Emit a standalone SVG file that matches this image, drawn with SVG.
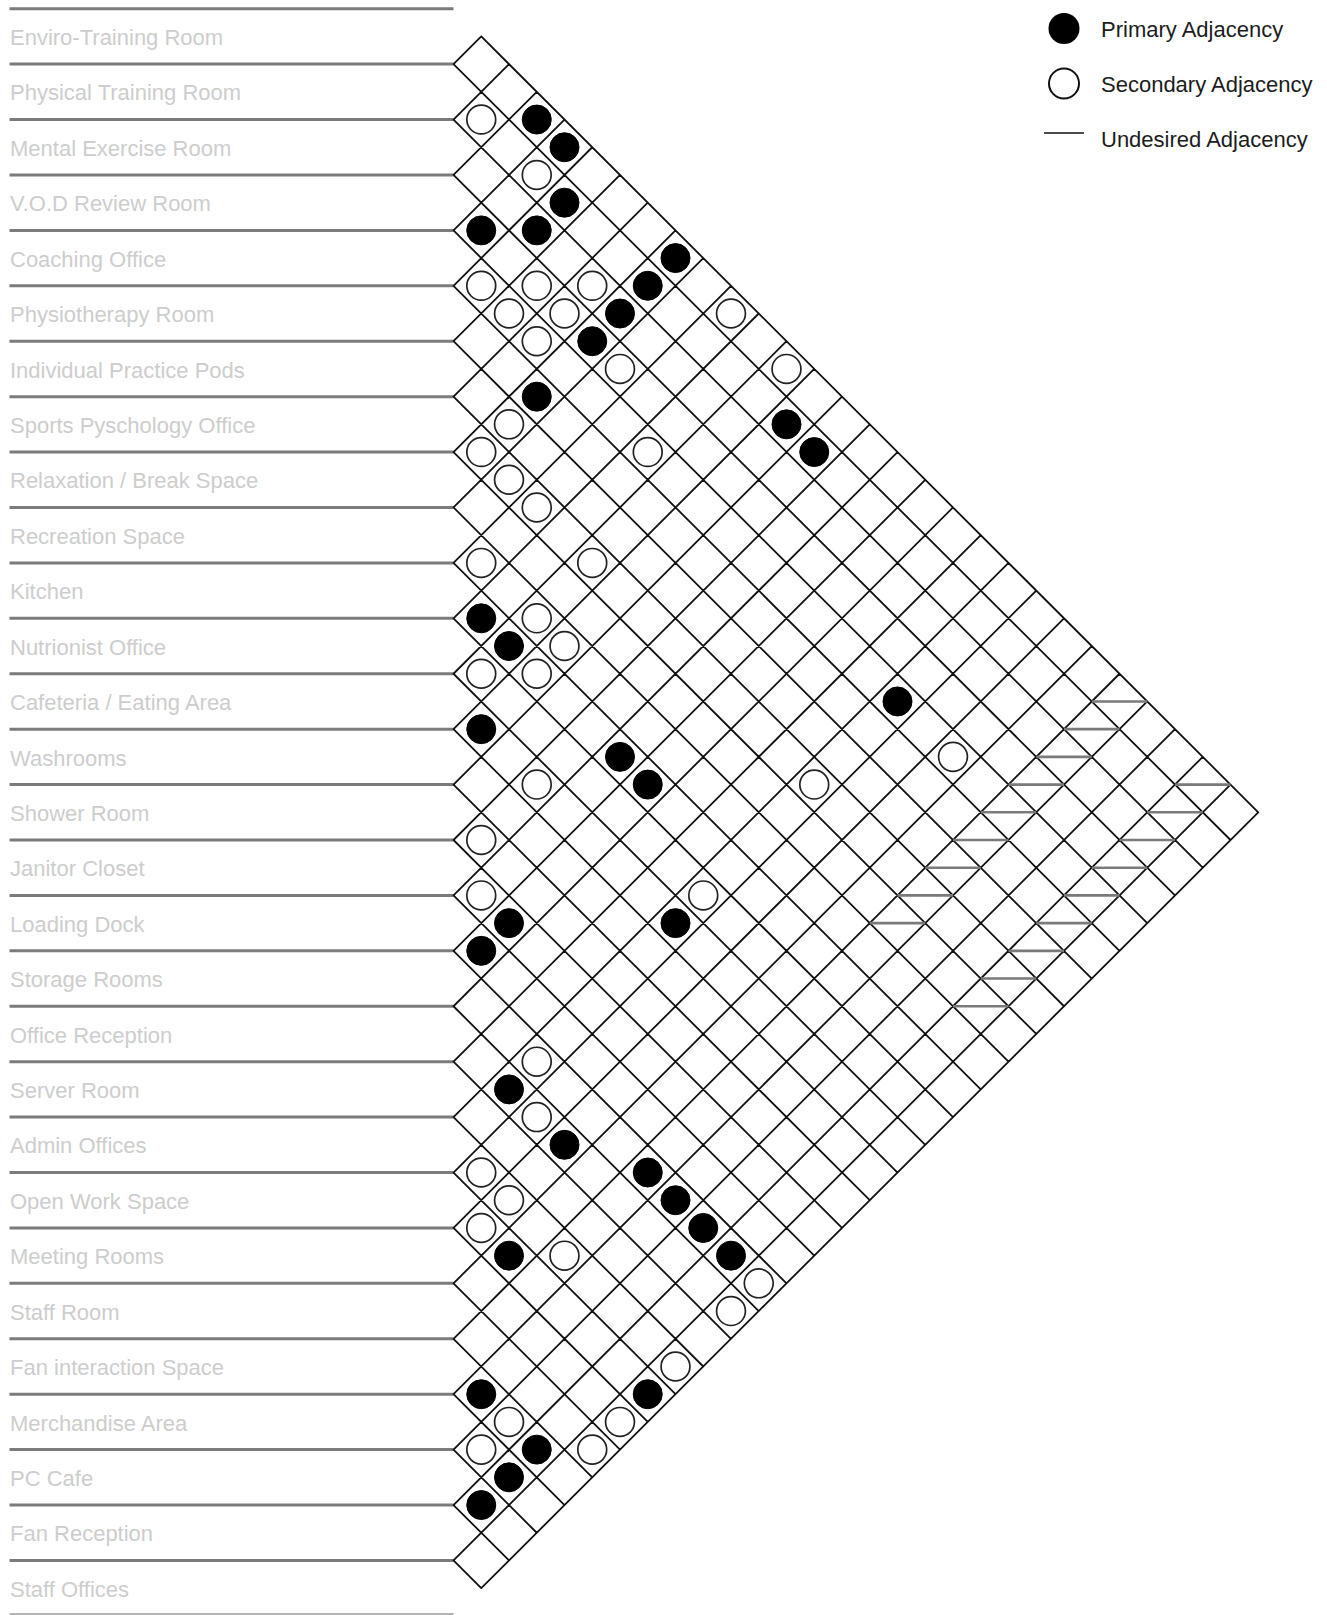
<svg xmlns="http://www.w3.org/2000/svg" width="1327" height="1615" viewBox="0 0 1327 1615">
<style>
.bg{fill:#ffffff}
.rule{stroke:#7b7b7b;stroke-width:3;fill:none}
.rule-end{stroke:#9a9a9a;stroke-width:1.6;fill:none}
.lbl{font-family:"Liberation Sans",Arial,sans-serif;font-size:22px;fill:#cdcdcd}
.leg{font-family:"Liberation Sans",Arial,sans-serif;font-size:22px;fill:#1c1c1c}
.grid{stroke:#111111;stroke-width:1.8;fill:none;vector-effect:non-scaling-stroke;stroke-linecap:round}
.p{fill:#000000;stroke:#000000;stroke-width:1;vector-effect:non-scaling-stroke}
.s{fill:#ffffff;stroke:#222222;stroke-width:1.7;vector-effect:non-scaling-stroke}
.u{stroke:#7a7a7a;stroke-width:2.6;fill:none;vector-effect:non-scaling-stroke}
</style>
<rect class="bg" x="0" y="0" width="1327" height="1615"/>

<g id="row-rules">
<line class="rule" x1="9.5" y1="8.7" x2="453.5" y2="8.7"/>
<line class="rule" x1="9.5" y1="64.12" x2="453.5" y2="64.12"/>
<line class="rule" x1="9.5" y1="119.54" x2="453.5" y2="119.54"/>
<line class="rule" x1="9.5" y1="174.96" x2="453.5" y2="174.96"/>
<line class="rule" x1="9.5" y1="230.38" x2="453.5" y2="230.38"/>
<line class="rule" x1="9.5" y1="285.8" x2="453.5" y2="285.8"/>
<line class="rule" x1="9.5" y1="341.22" x2="453.5" y2="341.22"/>
<line class="rule" x1="9.5" y1="396.64" x2="453.5" y2="396.64"/>
<line class="rule" x1="9.5" y1="452.06" x2="453.5" y2="452.06"/>
<line class="rule" x1="9.5" y1="507.48" x2="453.5" y2="507.48"/>
<line class="rule" x1="9.5" y1="562.9" x2="453.5" y2="562.9"/>
<line class="rule" x1="9.5" y1="618.32" x2="453.5" y2="618.32"/>
<line class="rule" x1="9.5" y1="673.74" x2="453.5" y2="673.74"/>
<line class="rule" x1="9.5" y1="729.16" x2="453.5" y2="729.16"/>
<line class="rule" x1="9.5" y1="784.58" x2="453.5" y2="784.58"/>
<line class="rule" x1="9.5" y1="840" x2="453.5" y2="840"/>
<line class="rule" x1="9.5" y1="895.42" x2="453.5" y2="895.42"/>
<line class="rule" x1="9.5" y1="950.84" x2="453.5" y2="950.84"/>
<line class="rule" x1="9.5" y1="1006.26" x2="453.5" y2="1006.26"/>
<line class="rule" x1="9.5" y1="1061.68" x2="453.5" y2="1061.68"/>
<line class="rule" x1="9.5" y1="1117.1" x2="453.5" y2="1117.1"/>
<line class="rule" x1="9.5" y1="1172.52" x2="453.5" y2="1172.52"/>
<line class="rule" x1="9.5" y1="1227.94" x2="453.5" y2="1227.94"/>
<line class="rule" x1="9.5" y1="1283.36" x2="453.5" y2="1283.36"/>
<line class="rule" x1="9.5" y1="1338.78" x2="453.5" y2="1338.78"/>
<line class="rule" x1="9.5" y1="1394.2" x2="453.5" y2="1394.2"/>
<line class="rule" x1="9.5" y1="1449.62" x2="453.5" y2="1449.62"/>
<line class="rule" x1="9.5" y1="1505.04" x2="453.5" y2="1505.04"/>
<line class="rule" x1="9.5" y1="1560.46" x2="453.5" y2="1560.46"/>
<line class="rule-end" x1="9.5" y1="1614" x2="453.5" y2="1614"/>
</g>

<g id="labels">
<g id="r00"><text class="lbl" x="10" y="45">Enviro-Training Room</text></g>
<g id="r01"><text class="lbl" x="10" y="100.4">Physical Training Room</text></g>
<g id="r02"><text class="lbl" x="10" y="155.8">Mental Exercise Room</text></g>
<g id="r03"><text class="lbl" x="10" y="211.3">V.O.D Review Room</text></g>
<g id="r04"><text class="lbl" x="10" y="266.7">Coaching Office</text></g>
<g id="r05"><text class="lbl" x="10" y="322.1">Physiotherapy Room</text></g>
<g id="r06"><text class="lbl" x="10" y="377.5">Individual Practice Pods</text></g>
<g id="r07"><text class="lbl" x="10" y="432.9">Sports Pyschology Office</text></g>
<g id="r08"><text class="lbl" x="10" y="488.4">Relaxation / Break Space</text></g>
<g id="r09"><text class="lbl" x="10" y="543.8">Recreation Space</text></g>
<g id="r10"><text class="lbl" x="10" y="599.2">Kitchen</text></g>
<g id="r11"><text class="lbl" x="10" y="654.6">Nutrionist Office</text></g>
<g id="r12"><text class="lbl" x="10" y="710">Cafeteria / Eating Area</text></g>
<g id="r13"><text class="lbl" x="10" y="765.5">Washrooms</text></g>
<g id="r14"><text class="lbl" x="10" y="820.9">Shower Room</text></g>
<g id="r15"><text class="lbl" x="10" y="876.3">Janitor Closet</text></g>
<g id="r16"><text class="lbl" x="10" y="931.7">Loading Dock</text></g>
<g id="r17"><text class="lbl" x="10" y="987.1">Storage Rooms</text></g>
<g id="r18"><text class="lbl" x="10" y="1042.6">Office Reception</text></g>
<g id="r19"><text class="lbl" x="10" y="1098">Server Room</text></g>
<g id="r20"><text class="lbl" x="10" y="1153.4">Admin Offices</text></g>
<g id="r21"><text class="lbl" x="10" y="1208.8">Open Work Space</text></g>
<g id="r22"><text class="lbl" x="10" y="1264.2">Meeting Rooms</text></g>
<g id="r23"><text class="lbl" x="10" y="1319.7">Staff Room</text></g>
<g id="r24"><text class="lbl" x="10" y="1375.1">Fan interaction Space</text></g>
<g id="r25"><text class="lbl" x="10" y="1430.5">Merchandise Area</text></g>
<g id="r26"><text class="lbl" x="10" y="1485.9">PC Cafe</text></g>
<g id="r27"><text class="lbl" x="10" y="1541.3">Fan Reception</text></g>
<g id="r28"><text class="lbl" x="10" y="1596.8">Staff Offices</text></g>
</g>

<g id="matrix" transform="translate(453.5 8.7) scale(27.75 27.71)">
<path id="matrix-grid" class="grid" d="M1 1L29 29M0 2L28 30M0 4L27 31M0 6L26 32M0 8L25 33M0 10L24 34M0 12L23 35M0 14L22 36M0 16L21 37M0 18L20 38M0 20L19 39M0 22L18 40M0 24L17 41M0 26L16 42M0 28L15 43M0 30L14 44M0 32L13 45M0 34L12 46M0 36L11 47M0 38L10 48M0 40L9 49M0 42L8 50M0 44L7 51M0 46L6 52M0 48L5 53M0 50L4 54M0 52L3 55M0 54L2 56M0 56L1 57
M0 2L1 1M0 4L2 2M0 6L3 3M0 8L4 4M0 10L5 5M0 12L6 6M0 14L7 7M0 16L8 8M0 18L9 9M0 20L10 10M0 22L11 11M0 24L12 12M0 26L13 13M0 28L14 14M0 30L15 15M0 32L16 16M0 34L17 17M0 36L18 18M0 38L19 19M0 40L20 20M0 42L21 21M0 44L22 22M0 46L23 23M0 48L24 24M0 50L25 25M0 52L26 26M0 54L27 27M0 56L28 28M1 57L29 29"/>

<g id="undesired">
<path class="u" d="M23 25H25M22 26H24M21 27H23M20 28H22M19 29H21M18 30H20M17 31H19M16 32H18M15 33H17"/>
<path class="u" d="M26 28H28M25 29H27M24 30H26M23 31H25M22 32H24M21 33H23M20 34H22M19 35H21M18 36H20"/>
</g>

<g id="primary">
<circle class="p" cx="3" cy="4" r="0.523"/>
<circle class="p" cx="4" cy="5" r="0.523"/>
<circle class="p" cx="4" cy="7" r="0.523"/>
<circle class="p" cx="1" cy="8" r="0.523"/>
<circle class="p" cx="3" cy="8" r="0.523"/>
<circle class="p" cx="8" cy="9" r="0.523"/>
<circle class="p" cx="7" cy="10" r="0.523"/>
<circle class="p" cx="6" cy="11" r="0.523"/>
<circle class="p" cx="5" cy="12" r="0.523"/>
<circle class="p" cx="3" cy="14" r="0.523"/>
<circle class="p" cx="12" cy="15" r="0.523"/>
<circle class="p" cx="13" cy="16" r="0.523"/>
<circle class="p" cx="1" cy="22" r="0.523"/>
<circle class="p" cx="2" cy="23" r="0.523"/>
<circle class="p" cx="16" cy="25" r="0.523"/>
<circle class="p" cx="1" cy="26" r="0.523"/>
<circle class="p" cx="6" cy="27" r="0.523"/>
<circle class="p" cx="7" cy="28" r="0.523"/>
<circle class="p" cx="2" cy="33" r="0.523"/>
<circle class="p" cx="8" cy="33" r="0.523"/>
<circle class="p" cx="1" cy="34" r="0.523"/>
<circle class="p" cx="2" cy="39" r="0.523"/>
<circle class="p" cx="4" cy="41" r="0.523"/>
<circle class="p" cx="7" cy="42" r="0.523"/>
<circle class="p" cx="8" cy="43" r="0.523"/>
<circle class="p" cx="9" cy="44" r="0.523"/>
<circle class="p" cx="2" cy="45" r="0.523"/>
<circle class="p" cx="10" cy="45" r="0.523"/>
<circle class="p" cx="1" cy="50" r="0.523"/>
<circle class="p" cx="7" cy="50" r="0.523"/>
<circle class="p" cx="3" cy="52" r="0.523"/>
<circle class="p" cx="2" cy="53" r="0.523"/>
<circle class="p" cx="1" cy="54" r="0.523"/>
</g>

<g id="secondary">
<circle class="s" cx="1" cy="4" r="0.52"/>
<circle class="s" cx="3" cy="6" r="0.52"/>
<circle class="s" cx="1" cy="10" r="0.52"/>
<circle class="s" cx="3" cy="10" r="0.52"/>
<circle class="s" cx="5" cy="10" r="0.52"/>
<circle class="s" cx="2" cy="11" r="0.52"/>
<circle class="s" cx="4" cy="11" r="0.52"/>
<circle class="s" cx="10" cy="11" r="0.52"/>
<circle class="s" cx="3" cy="12" r="0.52"/>
<circle class="s" cx="6" cy="13" r="0.52"/>
<circle class="s" cx="12" cy="13" r="0.52"/>
<circle class="s" cx="2" cy="15" r="0.52"/>
<circle class="s" cx="1" cy="16" r="0.52"/>
<circle class="s" cx="7" cy="16" r="0.52"/>
<circle class="s" cx="2" cy="17" r="0.52"/>
<circle class="s" cx="3" cy="18" r="0.52"/>
<circle class="s" cx="1" cy="20" r="0.52"/>
<circle class="s" cx="5" cy="20" r="0.52"/>
<circle class="s" cx="3" cy="22" r="0.52"/>
<circle class="s" cx="4" cy="23" r="0.52"/>
<circle class="s" cx="1" cy="24" r="0.52"/>
<circle class="s" cx="3" cy="24" r="0.52"/>
<circle class="s" cx="18" cy="27" r="0.52"/>
<circle class="s" cx="3" cy="28" r="0.52"/>
<circle class="s" cx="13" cy="28" r="0.52"/>
<circle class="s" cx="1" cy="30" r="0.52"/>
<circle class="s" cx="1" cy="32" r="0.52"/>
<circle class="s" cx="9" cy="32" r="0.52"/>
<circle class="s" cx="3" cy="38" r="0.52"/>
<circle class="s" cx="3" cy="40" r="0.52"/>
<circle class="s" cx="1" cy="42" r="0.52"/>
<circle class="s" cx="2" cy="43" r="0.52"/>
<circle class="s" cx="1" cy="44" r="0.52"/>
<circle class="s" cx="4" cy="45" r="0.52"/>
<circle class="s" cx="11" cy="46" r="0.52"/>
<circle class="s" cx="10" cy="47" r="0.52"/>
<circle class="s" cx="8" cy="49" r="0.52"/>
<circle class="s" cx="2" cy="51" r="0.52"/>
<circle class="s" cx="6" cy="51" r="0.52"/>
<circle class="s" cx="1" cy="52" r="0.52"/>
<circle class="s" cx="5" cy="52" r="0.52"/>
</g>
</g>

<g id="legend">
<g id="legend-primary">
<circle cx="1064" cy="28.5" r="15.5" fill="#000000"/>
<text class="leg" x="1101" y="37">Primary Adjacency</text>
</g>
<g id="legend-secondary">
<circle cx="1064" cy="83.5" r="15" fill="#ffffff" stroke="#111111" stroke-width="2"/>
<text class="leg" x="1101" y="92">Secondary Adjacency</text>
</g>
<g id="legend-undesired">
<line x1="1044" y1="133" x2="1084" y2="133" stroke="#111111" stroke-width="1.6"/>
<text class="leg" x="1101" y="147">Undesired Adjacency</text>
</g>
</g>
</svg>
